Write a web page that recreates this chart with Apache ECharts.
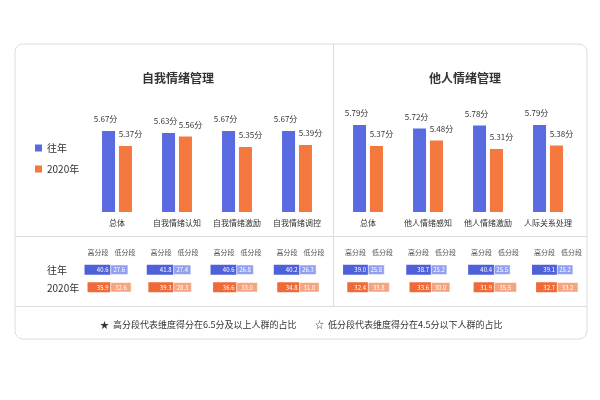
<!DOCTYPE html>
<html>
<head>
<meta charset="utf-8">
<script src="https://cdn.jsdelivr.net/npm/echarts@6/dist/echarts.min.js"></script>
<style>
  html, body { margin: 0; padding: 0; background: #fff; }
  #main { width: 600px; height: 400px; }
</style>
</head>
<body>
<div id="main"></div>
<script>
    // 分类
    var selfCats = ['总体', '自我情绪认知', '自我情绪激励', '自我情绪调控'];
    var otherCats = ['总体', '他人情绪感知', '他人情绪激励', '人际关系处理'];
    var rowNames = ['往年', '2020年'];

    // 平均分
    var selfPast = [5.67, 5.63, 5.67, 5.67];
    var self2020 = [5.37, 5.56, 5.35, 5.39];
    var otherPast = [5.79, 5.72, 5.78, 5.79];
    var other2020 = [5.37, 5.48, 5.31, 5.38];

    // 高分段 / 低分段 占比
    var selfHighPast = [40.6, 41.8, 40.6, 40.2];
    var selfLowPast = [27.6, 27.4, 26.8, 26.3];
    var selfHigh2020 = [35.9, 39.3, 36.6, 34.8];
    var selfLow2020 = [32.6, 28.3, 33.0, 31.0];
    var otherHighPast = [39.0, 38.7, 40.4, 39.1];
    var otherLowPast = [25.8, 25.2, 25.5, 25.2];
    var otherHigh2020 = [32.4, 33.6, 31.9, 32.7];
    var otherLow2020 = [33.8, 30.0, 35.5, 33.2];

    var BLUE = '#5a6ae0', ORANGE = '#f5783f';
    var BLUE_H = '#4f61d8', BLUE_L = '#939fec';
    var ORANGE_H = '#ee6a39', ORANGE_L = '#f4a47f';
    var FONT = '"Noto Sans CJK SC", "Noto Sans", sans-serif';

    var chart = echarts.init(document.getElementById('main'));

    var grids = [
        { left: 87, top: 112, width: 240, height: 100 },
        { left: 338, top: 112, width: 240, height: 100 }
    ];
    var xAxes = [], yAxes = [], series = [], graphics = [];

    [selfCats, otherCats].forEach(function (cats, i) {
        xAxes.push({
            type: 'category', gridIndex: i, data: cats,
            axisLine: { show: false }, axisTick: { show: false },
            axisLabel: { fontSize: 8, color: '#333', margin: 7, fontFamily: FONT, interval: 0 }
        });
        yAxes.push({ type: 'value', gridIndex: i, min: 4.05, max: 6.05, show: false });
    });

    function barLabel(dx) {
        return {
            show: true, position: 'top', distance: 8, offset: [dx, 0],
            fontSize: 8, color: '#333', fontFamily: FONT,
            formatter: function (p) { return p.value.toFixed(2) + '分'; }
        };
    }
    [[selfPast, self2020], [otherPast, other2020]].forEach(function (pair, i) {
        series.push({
            type: 'bar', name: '往年', xAxisIndex: i, yAxisIndex: i, data: pair[0],
            barWidth: 13, barGap: '30%', itemStyle: { color: BLUE }, label: barLabel(-3)
        });
        series.push({
            type: 'bar', name: '2020年', xAxisIndex: i, yAxisIndex: i, data: pair[1],
            barWidth: 13, barGap: '30%', itemStyle: { color: ORANGE }, label: barLabel(5)
        });
    });

    // 表格：每个维度一个小网格，高分段向左，低分段向右
    var tableSides = [
        { start: 110.5, high: [selfHighPast, selfHigh2020], low: [selfLowPast, selfLow2020] },
        { start: 368, high: [otherHighPast, otherHigh2020], low: [otherLowPast, otherLow2020] }
    ];
    var halfW = 45 * 0.64;
    tableSides.forEach(function (side) {
        for (var j = 0; j < 4; j++) {
            var cx = side.start + j * 63;
            var k = grids.length;
            grids.push({ left: cx - halfW, top: 261, width: halfW * 2, height: 35 });
            xAxes.push({ type: 'value', gridIndex: k, min: -45, max: 45, show: false });
            yAxes.push({ type: 'category', gridIndex: k, data: rowNames, inverse: true, show: false });
            series.push({
                type: 'bar', name: '高分段', xAxisIndex: k, yAxisIndex: k, stack: 't' + k, barWidth: 10,
                data: [
                    { value: -side.high[0][j], itemStyle: { color: BLUE_H } },
                    { value: -side.high[1][j], itemStyle: { color: ORANGE_H } }
                ],
                label: {
                    show: true, position: 'insideRight', distance: 2, fontSize: 6, color: '#fff', fontFamily: FONT,
                    formatter: function (p) { return Math.abs(p.value).toFixed(1); }
                }
            });
            series.push({
                type: 'bar', name: '低分段', xAxisIndex: k, yAxisIndex: k, stack: 't' + k, barWidth: 10,
                data: [
                    { value: side.low[0][j], itemStyle: { color: BLUE_L, borderColor: '#fff', borderWidth: 0.5 } },
                    { value: side.low[1][j], itemStyle: { color: ORANGE_L, borderColor: '#fff', borderWidth: 0.5 } }
                ],
                label: {
                    show: true, position: 'inside', fontSize: 6, color: '#fff', fontFamily: FONT,
                    formatter: function (p) { return p.value.toFixed(1); }
                }
            });
            graphics.push({ type: 'text', left: cx - 23, top: 249, style: { text: '高分段', fontSize: 7, fill: '#555', fontFamily: FONT } });
            graphics.push({ type: 'text', left: cx + 4, top: 249, style: { text: '低分段', fontSize: 7, fill: '#555', fontFamily: FONT } });
        }
    });

    // 卡片边框和分隔线
    graphics.unshift(
        { type: 'rect', shape: { x: 15, y: 44, width: 572, height: 295, r: 8 }, style: { fill: 'none', stroke: '#dcdcdc', lineWidth: 1 }, z: -1 },
        { type: 'line', shape: { x1: 15, y1: 236.5, x2: 587, y2: 236.5 }, style: { stroke: '#dcdcdc', lineWidth: 1 }, z: -1 },
        { type: 'line', shape: { x1: 15, y1: 306.5, x2: 587, y2: 306.5 }, style: { stroke: '#dcdcdc', lineWidth: 1 }, z: -1 },
        { type: 'line', shape: { x1: 333.5, y1: 44, x2: 333.5, y2: 306.5 }, style: { stroke: '#dcdcdc', lineWidth: 1 }, z: -1 }
    );
    graphics.push(
        { type: 'text', x: 178, y: 78, style: { text: '自我情绪管理', fontSize: 12, fontWeight: 'bold', fill: '#333', align: 'center', verticalAlign: 'middle', fontFamily: FONT } },
        { type: 'text', x: 465, y: 78, style: { text: '他人情绪管理', fontSize: 12, fontWeight: 'bold', fill: '#333', align: 'center', verticalAlign: 'middle', fontFamily: FONT } },
        { type: 'text', x: 47, y: 270, style: { text: '往年', fontSize: 10, fill: '#333', verticalAlign: 'middle', fontFamily: FONT } },
        { type: 'text', x: 47, y: 288, style: { text: '2020年', fontSize: 10, fill: '#333', verticalAlign: 'middle', fontFamily: FONT } },
        { type: 'text', x: 100, y: 325, style: { text: '★  高分段代表维度得分在6.5分及以上人群的占比', fontSize: 9, fill: '#333', verticalAlign: 'middle', fontFamily: FONT } },
        { type: 'text', x: 315, y: 325, style: { text: '☆  低分段代表维度得分在4.5分以下人群的占比', fontSize: 9, fill: '#333', verticalAlign: 'middle', fontFamily: FONT } }
    );

    var option = {
        animation: false,
        legend: {
            data: ['往年', '2020年'],
            orient: 'vertical', left: 30, top: 137,
            itemWidth: 7, itemHeight: 7, itemGap: 9,
            icon: 'rect',
            textStyle: { fontSize: 10, color: '#333', fontFamily: FONT, lineHeight: 12 }
        },
        grid: grids,
        xAxis: xAxes,
        yAxis: yAxes,
        series: series,
        graphic: graphics
    };
    chart.setOption(option);
</script>
</body>
</html>
